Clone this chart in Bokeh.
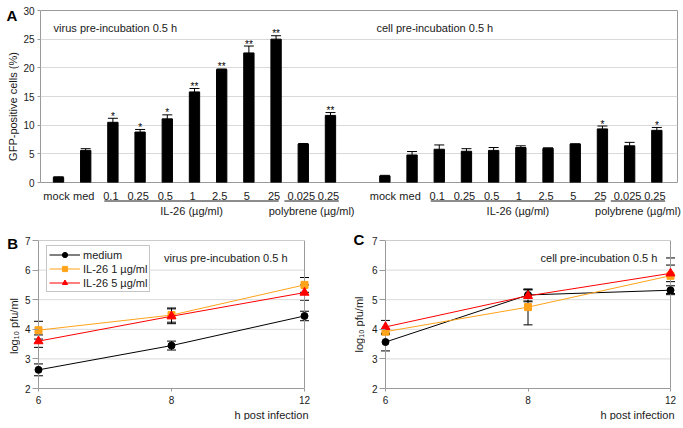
import numpy as np
from bokeh.plotting import figure
from bokeh.models import (ColumnDataSource, Range1d, FixedTicker, Whisker, TeeHead,
                          Label, Title)
from bokeh.layouts import column, row
from bokeh.embed import file_html
from bokeh.resources import INLINE
from bokeh.core.properties import value

# ---------------- data ----------------
conc_labels = ["mock", "med", "0.1", "0.25", "0.5", "1", "2.5", "5", "25", "0.025", "0.25"]
virus_pct = [0.9, 5.6, 10.5, 8.8, 11.1, 15.8, 19.7, 22.6, 25.0, 6.7, 11.7]
virus_err = [0.1, 0.3, 0.7, 0.45, 0.7, 0.6, 0.1, 1.2, 0.6, 0.1, 0.5]
virus_sig = ["", "", "*", "*", "*", "**", "**", "**", "**", "", "**"]
cell_pct = [1.15, 4.8, 5.8, 5.45, 5.6, 6.1, 5.95, 6.7, 9.35, 6.4, 9.1]
cell_err = [0.1, 0.6, 0.75, 0.45, 0.5, 0.3, 0.1, 0.05, 0.5, 0.6, 0.5]
cell_sig = ["", "", "", "", "", "", "", "", "*", "", "*"]
pct_ticks = [0, 5, 10, 15, 20, 25, 30]
group_names = ["IL-26 (µg/ml)", "polybrene (µg/ml)"]
group_first = [2, 9]
group_last = [8, 10]

hours = ["6", "8", "12"]
pfu_ticks = [2, 3, 4, 5, 6, 7]
series_names = ["medium", "IL-26 1 µg/ml", "IL-26 5 µg/ml"]
b_vals = [[2.63, 3.45, 4.45], [3.97, 4.48, 5.50], [3.60, 4.44, 5.24]]
b_errs = [[0.20, 0.15, 0.16], [0.30, 0.24, 0.25], [0.21, 0.25, 0.26]]
c_vals = [[3.57, 5.16, 5.32], [3.92, 4.75, 5.81], [4.08, 5.13, 5.89]]
c_errs = [[0.30, 0.20, 0.15], [0.10, 0.60, 0.60], [0.22, 0.20, 0.28]]

# ---------------- style ----------------
FONT = "Liberation Sans"
GRID = "#d9d9d9"
AXIS = "#9a9a9a"
TXT = "#1a1a1a"
SERIES_COLORS = ["#000000", "#FFA31A", "#FF0000"]
SERIES_MARKERS = ["circle", "square", "triangle"]
SERIES_SIZES = [7, 7, 9]
LAB = "11px"
TICK = "10px"


def base_style(p):
    p.background_fill_color = "white"
    p.border_fill_color = "white"
    if "frame_align" in p.properties():
        p.frame_align = False


def strip(w, h, items):
    """Narrow side strip holding the panel letter and the rotated y-axis title."""
    s = figure(frame_width=w, frame_height=h, x_range=Range1d(0, w), y_range=Range1d(h, 0),
               x_axis_location=None, y_axis_location=None,
               output_backend="svg", toolbar_location=None,
               min_border_left=0, min_border_right=0, min_border_top=0, min_border_bottom=0)
    base_style(s)
    s.outline_line_color = None
    s.grid.visible = False
    for (x, y, txt, size, style, angle, align) in items:
        s.text(x=[x], y=[y], text=[txt], angle=angle, text_align=align,
               text_baseline="middle", text_font=value(FONT), text_font_size=size,
               text_font_style=style, text_color="black" if style == "bold" else TXT)
    return s


# ---------------- panel A ----------------
n = len(conc_labels)
gap = 1
left_x = np.arange(n)
right_x = np.arange(n) + n + gap
STRIP_A = 20
A_LEFT, A_RIGHT, A_FW, A_FH, A_TOP, A_BOT = 18, 8, 637, 172, 10, 6
a_x0, a_x1 = -0.662, float(right_x[-1]) + 0.76

pa = figure(frame_width=A_FW, frame_height=A_FH,
            x_range=Range1d(a_x0, a_x1), y_range=Range1d(pct_ticks[0], pct_ticks[-1]),
            x_axis_location=None, output_backend="svg", toolbar_location=None,
            min_border_left=A_LEFT, min_border_right=A_RIGHT,
            min_border_top=A_TOP, min_border_bottom=A_BOT)
base_style(pa)
pa.outline_line_color = AXIS
pa.xgrid.visible = False
pa.ygrid.ticker = FixedTicker(ticks=pct_ticks)
pa.ygrid.grid_line_color = GRID
ya = pa.yaxis[0]
ya.ticker = FixedTicker(ticks=pct_ticks)
ya.axis_line_color = None
ya.major_tick_out = 3
ya.major_tick_in = 0
ya.minor_tick_line_color = None
ya.major_tick_line_color = AXIS
ya.major_label_standoff = 3
ya.major_label_text_font = FONT
ya.major_label_text_font_size = TICK
ya.major_label_text_color = TXT

for xs, vals, errs, sig in [(left_x, virus_pct, virus_err, virus_sig),
                            (right_x, cell_pct, cell_err, cell_sig)]:
    src = ColumnDataSource(dict(x=xs, top=vals,
                                upper=[v + e for v, e in zip(vals, errs)],
                                lower=[v - e for v, e in zip(vals, errs)],
                                sig=sig))
    pa.add_layout(Whisker(source=src, base="x", upper="upper", lower="lower",
                          line_color="black", line_width=1,
                          upper_head=TeeHead(size=10, line_color="black", line_width=1),
                          lower_head=TeeHead(size=10, line_color="black", line_width=1)))
    pa.vbar(x="x", top="top", width=0.38, source=src,
            fill_color="black", line_color="black")
    pa.text(x="x", y="upper", text="sig", source=src, text_align="center",
            text_baseline="alphabetic", y_offset=-2, text_font=value(FONT),
            text_font_size="10px", text_color="black")

pa.add_layout(Label(x=-0.18, y=27.0, text="virus pre-incubation 0.5 h",
                    text_font=FONT, text_font_size=LAB, text_color=TXT,
                    text_baseline="middle", text_align="left"))
pa.add_layout(Label(x=11.69, y=27.0, text="cell pre-incubation 0.5 h",
                    text_font=FONT, text_font_size=LAB, text_color=TXT,
                    text_baseline="middle", text_align="left"))

A_H = A_TOP + A_FH + A_BOT
sa = strip(STRIP_A, A_H, [(6, 14.6, "A", "15px", "bold", 0, "left"),
                          (12, 106, "GFP-positive cells (%)", LAB, "normal", np.pi / 2, "center")])

# ---------------- category labels under panel A ----------------
ppu_a = A_FW / (a_x1 - a_x0)
full_left = STRIP_A + A_LEFT
A2_H = 34
pa2 = figure(frame_width=full_left + A_FW + A_RIGHT, frame_height=A2_H,
             x_range=Range1d(a_x0 - full_left / ppu_a, a_x1 + A_RIGHT / ppu_a),
             y_range=Range1d(A2_H, 0),
             x_axis_location=None, y_axis_location=None,
             output_backend="svg", toolbar_location=None,
             min_border_left=0, min_border_right=0, min_border_top=0, min_border_bottom=0)
base_style(pa2)
pa2.outline_line_color = None
pa2.grid.visible = False
underline_pads = [(0.24, 0.17), (0.62, 0.38)]
for off in [0, n + gap]:
    pa2.text(x=list(np.arange(n) + off), y=[7.5] * n, text=conc_labels,
             text_align="center", text_baseline="middle", text_font=value(FONT),
             text_font_size=LAB, text_color=TXT)
    for name, f, l, (lp, rp) in zip(group_names, group_first, group_last, underline_pads):
        x0 = off + f - lp
        x1 = off + l + rp
        pa2.segment(x0=[x0], y0=[12.5], x1=[x1], y1=[12.5], line_color=TXT, line_width=1)
        pa2.text(x=[(x0 + x1) / 2], y=[22.0], text=[name], text_align="center",
                 text_baseline="middle", text_font=value(FONT),
                 text_font_size=LAB, text_color=TXT)


# ---------------- panels B and C ----------------
def line_panel(vals_list, errs_list, caption, cap_x, axis_w, lb, rb, top, show_legend):
    xs = np.arange(len(hours))
    ppu = axis_w / (len(hours) - 1)
    pad = 6
    p = figure(frame_width=axis_w + 2 * pad, frame_height=148,
               x_range=Range1d(-pad / ppu, xs[-1] + pad / ppu),
               y_range=Range1d(pfu_ticks[0], pfu_ticks[-1]),
               output_backend="svg", toolbar_location=None,
               min_border_left=lb, min_border_right=rb,
               min_border_top=top, min_border_bottom=0)
    base_style(p)
    p.outline_line_color = None
    p.grid.visible = False
    lo, hi = pfu_ticks[0], pfu_ticks[-1]
    inner = pfu_ticks[1:-1]
    p.segment(x0=[0] * len(inner), y0=inner, x1=[xs[-1]] * len(inner), y1=inner,
              line_color=GRID, line_width=1)
    p.segment(x0=[0, xs[-1], 0], y0=[lo, lo, hi], x1=[0, xs[-1], xs[-1]], y1=[hi, hi, hi],
              line_color=AXIS, line_width=1)

    xa = p.xaxis[0]
    xa.ticker = FixedTicker(ticks=list(xs))
    xa.major_label_overrides = {int(i): h for i, h in zip(xs, hours)}
    xa.bounds = (0, int(xs[-1]))
    xa.axis_line_color = AXIS
    xa.major_tick_line_color = AXIS
    xa.major_tick_out = 3
    xa.major_tick_in = 0
    xa.minor_tick_line_color = None
    xa.major_label_standoff = 4
    xa.major_label_text_font = FONT
    xa.major_label_text_font_size = TICK
    xa.major_label_text_color = TXT

    ya = p.yaxis[0]
    ya.ticker = FixedTicker(ticks=pfu_ticks)
    ya.axis_line_color = None
    ya.major_tick_line_color = AXIS
    ya.major_tick_in = pad
    ya.major_tick_out = 0
    ya.minor_tick_line_color = None
    ya.major_label_standoff = 2
    ya.major_label_text_font = FONT
    ya.major_label_text_font_size = TICK
    ya.major_label_text_color = TXT

    for name, vals, errs, col, mk, sz in zip(series_names, vals_list, errs_list,
                                             SERIES_COLORS, SERIES_MARKERS, SERIES_SIZES):
        src = ColumnDataSource(dict(x=xs, y=vals,
                                    upper=[v + e for v, e in zip(vals, errs)],
                                    lower=[v - e for v, e in zip(vals, errs)]))
        p.add_layout(Whisker(source=src, base="x", upper="upper", lower="lower",
                             line_color="black", line_width=1,
                             upper_head=TeeHead(size=9, line_color="black", line_width=1),
                             lower_head=TeeHead(size=9, line_color="black", line_width=1)))
        kw = dict(legend_label=name) if show_legend else {}
        p.line(x="x", y="y", source=src, line_color=col, line_width=1, **kw)
        p.scatter(x="x", y="y", source=src, marker=mk, size=sz,
                  fill_color=col, line_color=col, **kw)

    p.add_layout(Label(x=cap_x, y=6.42, text=caption, text_font=FONT,
                       text_font_size=LAB, text_color=TXT,
                       text_baseline="middle", text_align="left"))
    t = Title(text="h post infection", align="right", text_font=FONT,
              text_font_size=LAB, text_font_style="normal", text_color=TXT,
              offset=2, standoff=0)
    p.add_layout(t, "below")

    if show_legend:
        lg = p.legend[0]
        lg.location = (14, 96)
        lg.margin = 0
        lg.padding = 2
        lg.spacing = 1
        lg.glyph_width = 31
        lg.glyph_height = 13
        lg.label_height = 13
        lg.label_standoff = 3
        lg.label_text_font = FONT
        lg.label_text_font_size = LAB
        lg.label_text_color = TXT
        lg.border_line_color = "#8c8c8c"
        lg.background_fill_alpha = 1.0
    return p


ROW_H = 198
STRIP_B, STRIP_C = 20, 24
pb = line_panel(b_vals, b_errs, "virus pre-incubation 0.5 h", 0.944, 266, 12, 31, 18, True)
pc = line_panel(c_vals, c_errs, "cell pre-incubation 0.5 h", 1.088, 285, 14, 7, 18, False)
sb = strip(STRIP_B, ROW_H, [(6.7, 21.3, "B", "15px", "bold", 0, "left"),
                            (13.3, 103.5, "log₁₀ pfu/ml", LAB, "normal", np.pi / 2, "center")])
sc = strip(STRIP_C, ROW_H, [(12, 16.5, "C", "15px", "bold", 0, "left"),
                            (17.3, 102, "log₁₀ pfu/ml", LAB, "normal", np.pi / 2, "center")])

layout = column(row(sa, pa), pa2, row(sb, pb, sc, pc))
open("out.html", "w", encoding="utf-8").write(file_html(layout, INLINE, "chart"))
